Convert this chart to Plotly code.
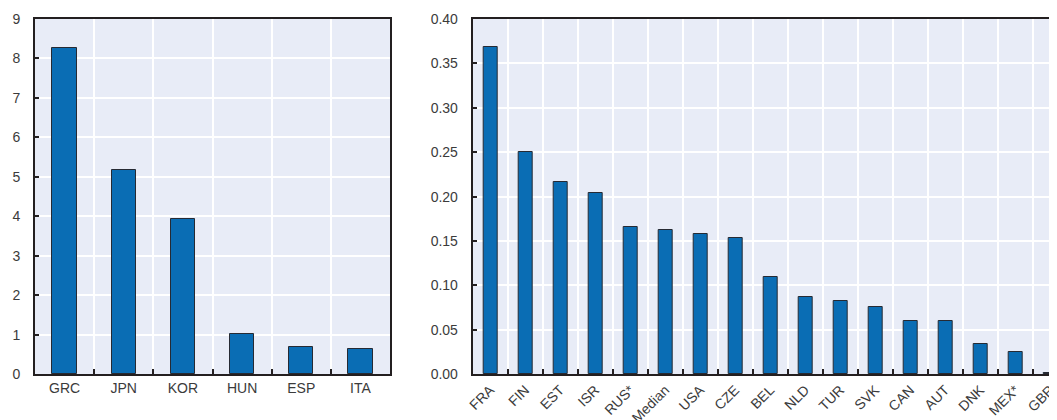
import plotly.graph_objects as go

# Left panel data
left_categories = ["GRC", "JPN", "KOR", "HUN", "ESP", "ITA"]
left_values = [8.27, 5.18, 3.93, 1.03, 0.70, 0.63]

# Right panel data
right_categories = ["FRA", "FIN", "EST", "ISR", "RUS*", "Median", "USA", "CZE", "BEL",
                    "NLD", "TUR", "SVK", "CAN", "AUT", "DNK", "MEX*", "GBR"]
right_values = [0.368, 0.250, 0.216, 0.204, 0.166, 0.162, 0.158, 0.153, 0.109,
                0.087, 0.083, 0.076, 0.060, 0.060, 0.034, 0.025, 0.002]

left_ticks = list(range(0, 10))
right_ticks = [i * 0.05 for i in range(9)]

W, H = 1057, 420
BAR = "#0A6DB4"
EDGE = "#262a33"
BG = "#E8ECF7"
TXT = "#3b3b3b"
AX = "#231f20"
FONT = "Liberation Sans, Arial, sans-serif"

fig = go.Figure()
fig.add_trace(go.Bar(x=left_categories, y=left_values, width=0.41,
                     marker=dict(color=BAR, line=dict(color=EDGE, width=1)),
                     xaxis="x", yaxis="y", showlegend=False, hoverinfo="x+y"))
fig.add_trace(go.Bar(x=right_categories, y=right_values, width=0.4,
                     marker=dict(color=BAR, line=dict(color=EDGE, width=1)),
                     xaxis="x2", yaxis="y2", showlegend=False, hoverinfo="x+y"))

# page body adds an 8px offset; positions below are in figure pixels
ybot = (H - 366.3) / H
ytop = 1 - 11 / H

common_x = dict(type="category", tickson="boundaries", ticks="inside", ticklen=5,
                tickwidth=1.5, tickcolor=AX, showgrid=True, gridcolor="white",
                gridwidth=1.5, showline=True, linecolor=AX, linewidth=2,
                tickfont=dict(family=FONT, size=14, color=TXT), automargin=False,
                fixedrange=True)
common_y = dict(ticks="inside", ticklen=4, tickwidth=1.5, tickcolor=AX,
                showgrid=True, gridcolor="white", gridwidth=1.5, showline=True,
                linecolor=AX, linewidth=2, zeroline=False,
                tickfont=dict(family=FONT, size=14, color=TXT), automargin=False,
                ticklabelstandoff=10, fixedrange=True)

x2_left = 464.7
cat_w = 35.0
x2_range_end = (W - x2_left) / cat_w - 0.5

fig.update_layout(
    width=W, height=H,
    margin=dict(l=0, r=0, t=0, b=0),
    paper_bgcolor="white",
    plot_bgcolor=BG,
    bargap=0,
    xaxis=dict(common_x, domain=[27 / W, 382 / W], anchor="y", mirror=True,
               range=[-0.5, 5.5]),
    yaxis=dict(common_y, domain=[ybot, ytop], anchor="x", mirror=True,
               range=[0, 9], tickvals=left_ticks,
               ticktext=[str(v) for v in left_ticks]),
    xaxis2=dict(common_x, domain=[x2_left / W, 1], anchor="y2", mirror=True,
                range=[-0.5, x2_range_end], tickangle=-45),
    yaxis2=dict(common_y, domain=[ybot, ytop], anchor="x2", mirror=False,
                range=[0, 0.4], tickvals=right_ticks,
                ticktext=[f"{v:.2f}" for v in right_ticks]),
)

fig.write_html("out.html")
